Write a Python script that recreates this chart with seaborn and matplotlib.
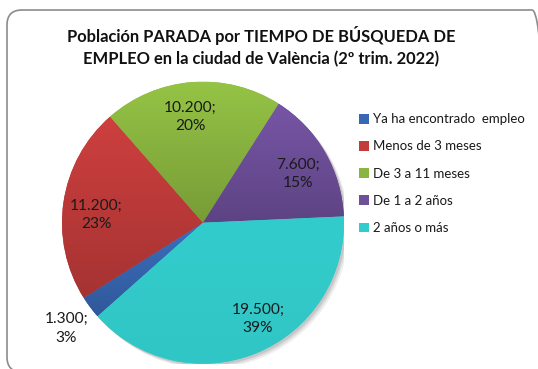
import numpy as np
import matplotlib
matplotlib.use("Agg")
import matplotlib.pyplot as plt
import seaborn as sns
from matplotlib.patches import FancyBboxPatch, Circle
from matplotlib.transforms import IdentityTransform
from matplotlib.colors import to_rgb

# --- data -------------------------------------------------------------
categories = ["Ya ha encontrado  empleo", "Menos de 3 meses", "De 3 a 11 meses",
              "De 1 a 2 años", "2 años o más"]
values = [1300, 11200, 10200, 7600, 19500]
value_labels = ["1.300", "11.200", "10.200", "7.600", "19.500"]
percents = [3, 23, 20, 15, 39]
title = "Población PARADA por TIEMPO DE BÚSQUEDA DE\nEMPLEO en la ciudad de València (2º trim. 2022)"

# --- style ------------------------------------------------------------
sns.set_theme(style="white")
plt.rcParams["font.family"] = ["Lato", "DejaVu Sans"]
colors = sns.color_palette(["#3868B4", "#C23C3B", "#8AB540", "#6E4F9A", "#33CCCC"])
# top / bottom shade factors for each slice's vertical gradient
shade = [(1.06, 0.85), (1.06, 0.85), (1.08, 0.86), (1.08, 0.85), (1.0, 0.97)]

W, H, DPI = 538, 369, 100
fig = plt.figure(figsize=(W / DPI, H / DPI), dpi=DPI)
fig.patch.set_facecolor("white")

# rounded chart-area border
frame = FancyBboxPatch((7, -3), 540, 362, boxstyle="round,pad=0,rounding_size=15",
                       transform=IdentityTransform(), facecolor="none",
                       edgecolor="#8c8c8c", linewidth=1.2, zorder=-1)
fig.patches.append(frame)

# pie axes: centre (203, 222.7) px, radius 141 px
cx, cy, R = 203, 222.7, 141
ax = fig.add_axes([(cx - R) / W, (H - cy - R) / H, 2 * R / W, 2 * R / H])
ax.patch.set_alpha(0)

# soft shadow under the pie
for off, a in [(0.035, 0.06), (0.025, 0.08), (0.015, 0.10)]:
    ax.add_patch(Circle((off, -off), 1.0, facecolor="black", alpha=a,
                        edgecolor="none", zorder=0))

wedges, _ = ax.pie(values, colors=colors, startangle=221.6, counterclock=False,
                   radius=1.0, center=(0, 0),
                   wedgeprops=dict(edgecolor="none", linewidth=0))

# vertical gradient inside every slice
for w, base, (top, bot) in zip(wedges, colors, shade):
    ext = w.get_path().get_extents()
    t = np.linspace(0, 1, 256)[:, None]
    fac = top + (bot - top) * t
    img = np.clip(np.array(to_rgb(base))[None, None, :] * fac[:, :, None], 0, 1)
    im = ax.imshow(img, extent=[ext.x0, ext.x1, ext.y0, ext.y1], origin="upper",
                   aspect="auto", zorder=2, interpolation="bilinear")
    im.set_clip_path(w)
ax.set_xlim(-1, 1)
ax.set_ylim(-1, 1)
ax.set_aspect("equal")
ax.axis("off")

# data labels: value; percent
label_pos = [(-0.969, -0.749), (-0.759, 0.057), (-0.092, 0.752),
             (0.674, 0.348), (0.390, -0.681)]
for (x, y), v, p in zip(label_pos, value_labels, percents):
    ax.text(x, y, f"{v};\n{p}%", ha="center", va="center", fontsize=11.2,
            color="#1a1a1a", linespacing=1.4, zorder=5)

fig.text(261.5 / W, 1 - 46.5 / H, title, ha="center", va="center",
         fontsize=11.9, fontweight="bold", color="#111111", linespacing=1.45)

fig.legend(wedges, categories, loc="upper left",
           bbox_to_anchor=(354 / W, 1 - 108 / H), frameon=False,
           fontsize=9.5, handlelength=0.75, handleheight=0.75,
           handletextpad=0.3, labelspacing=1.15, borderaxespad=0,
           labelcolor="#1a1a1a")

fig.savefig("out.png", dpi=DPI)
